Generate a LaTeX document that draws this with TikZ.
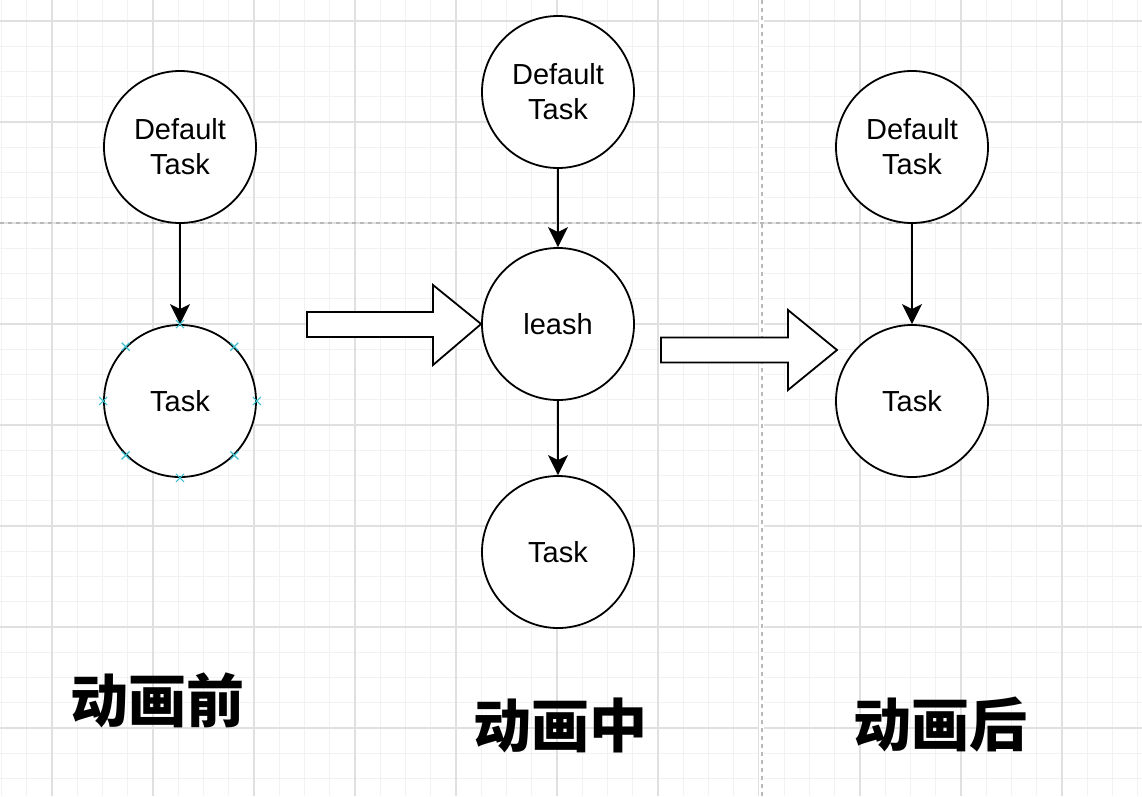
\documentclass[tikz,border=0pt]{standalone}
\usepackage{fontspec}
\setmainfont{Liberation Sans}
\newfontfamily\cjk{Noto Sans CJK SC}
\usetikzlibrary{arrows.meta}
\definecolor{gridminor}{RGB}{242,242,242}
\definecolor{gridmajor}{RGB}{224,224,224}
\definecolor{pagebreak}{RGB}{185,185,185}
\definecolor{pointcyan}{RGB}{60,190,205}

\begin{document}
\begin{tikzpicture}[x=1pt,y=-1pt,
  task/.style={circle, draw, line width=1.8pt, fill=white, minimum size=152pt,
    inner sep=0pt, align=center, font=\fontsize{29}{35}\selectfont},
  flow/.style={line width=1.8pt, -{Stealth[length=20pt,width=20pt,inset=5pt]}},
  bigarrow/.style={draw, line width=1.8pt, fill=white, line join=miter},
  stage/.style={font=\cjk\bfseries\fontsize{58}{58}\selectfont},
  anchormark/.style={pointcyan, line width=1.1pt}]
\useasboundingbox (0,0) rectangle (1142,796);

% Grid background
\foreach \i in {0,...,45} {\draw[gridminor, line width=1pt] ({1.5+25.25*\i},0) -- ({1.5+25.25*\i},796);}
\foreach \i in {0,...,30} {\draw[gridminor, line width=1pt] (0,{21+25.25*\i}) -- (1142,{21+25.25*\i});}
\foreach \x in {52,153,...,1100} {\draw[gridmajor, line width=1.1pt] (\x,0) -- (\x,796);}
\foreach \y in {21,122,...,780} {\draw[gridmajor, line width=1.1pt] (0,\y) -- (1142,\y);}

% Page breaks
\draw[white, line width=5pt] (761.5,0) -- (761.5,796);
\draw[pagebreak, line width=1.2pt, dash pattern=on 4pt off 4pt] (762,0) -- (762,796);
\draw[pagebreak, line width=1.2pt, dash pattern=on 4pt off 4pt] (0,223) -- (1142,223);

% Before
\node[task] (dt1) at (180,147) {Default\\Task};
\node[task] (t1) at (180,401) {Task};
\draw[flow] (dt1) -- (t1);
\foreach \a in {0,45,...,315} {
  \draw[anchormark] ([shift={(-4,-4)}]t1.\a) -- ([shift={(4,4)}]t1.\a);
  \draw[anchormark] ([shift={(-4,4)}]t1.\a) -- ([shift={(4,-4)}]t1.\a);
}

% During
\node[task] (dt2) at (558,92) {Default\\Task};
\node[task] (leash) at (558,324) {leash};
\node[task] (t2) at (558,552) {Task};
\draw[flow] (dt2) -- (leash);
\draw[flow] (leash) -- (t2);

% After
\node[task] (dt3) at (912,147) {Default\\Task};
\node[task] (t3) at (912,401) {Task};
\draw[flow] (dt3) -- (t3);

% Transition arrows
\draw[bigarrow] (307,312) -- (433,312) -- (433,285) -- (leash.west) -- (433,365) -- (433,337) -- (307,337) -- cycle;
\coordinate (next) at (837,350);
\draw[bigarrow] (661,337.5) -- (788,337.5) -- (788,310) -- (next) -- (788,390) -- (788,362.5) -- (661,362.5) -- cycle;

% Stage labels
\node[stage] (before) at (157,700) {动画前};
\node[stage] (during) at (560,725) {动画中};
\node[stage] (after) at (940,725) {动画后};
\end{tikzpicture}
\end{document}
